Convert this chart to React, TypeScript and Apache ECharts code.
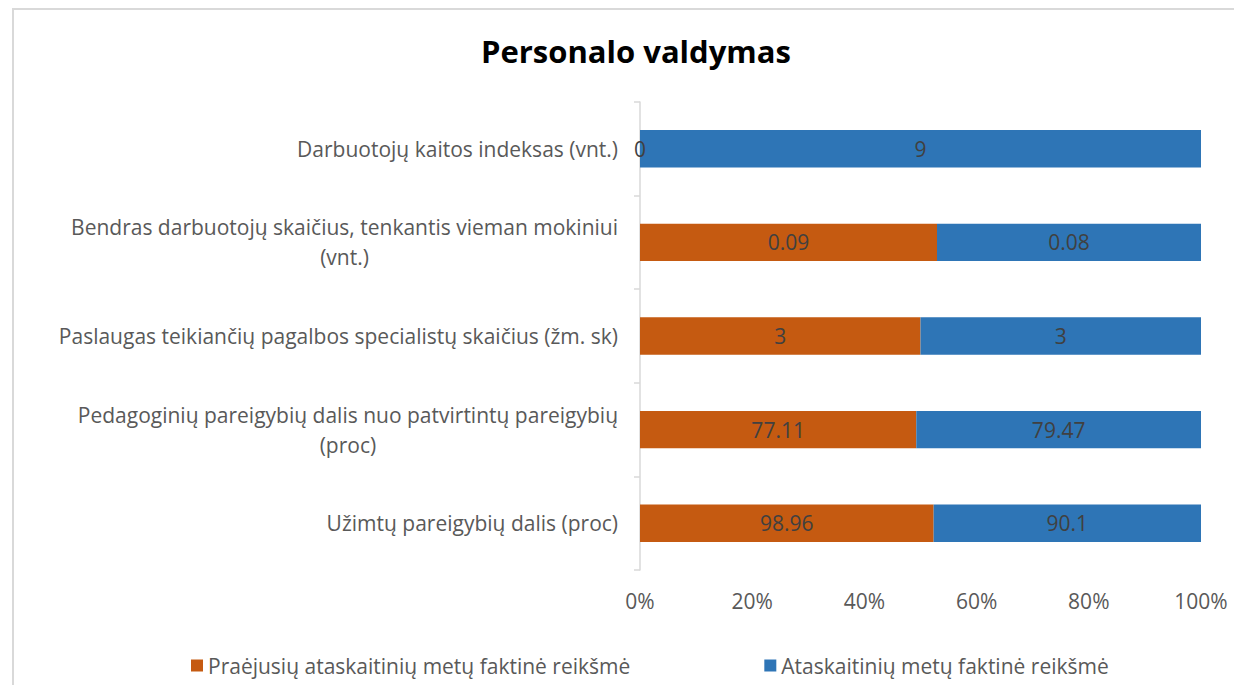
import React, { useEffect, useRef } from "react";
import * as echarts from "echarts";

const categories = [
  "Užimtų pareigybių dalis (proc)",
  "Pedagoginių pareigybių dalis nuo patvirtintų pareigybių\n(proc)",
  "Paslaugas teikiančių pagalbos specialistų skaičius (žm. sk)",
  "Bendras darbuotojų skaičius, tenkantis vieman mokiniui\n(vnt.)",
  "Darbuotojų kaitos indeksas (vnt.)",
];
const previousYear = [98.96, 77.11, 3, 0.09, 0];
const currentYear = [90.1, 79.47, 3, 0.08, 9];
const seriesNames = [
  "Praėjusių ataskaitinių metų faktinė reikšmė",
  "Ataskaitinių metų faktinė reikšmė",
];
const xTicks = [0, 20, 40, 60, 80, 100];

const FONT = "Open Sans";
const FS = 21;

export default function App() {
  const ref = useRef<HTMLDivElement>(null);
  useEffect(() => {
    if (!ref.current) return;
    const chart = echarts.init(ref.current, undefined, { renderer: "svg" });
    const totals = previousYear.map((v, i) => v + currentYear[i]);
    const toData = (arr: number[]) =>
      arr.map((v, i) => ({ value: totals[i] ? (v / totals[i]) * 100 : 0, raw: v }));
    const labelCfg = {
      show: true,
      position: "inside",
      color: "#404040",
      fontSize: FS,
      fontFamily: FONT,
      formatter: (p: any) => String(p.data.raw),
    };
    chart.setOption({
      animation: false,
      textStyle: { fontFamily: FONT },
      title: {
        text: "Personalo valdymas",
        left: 476,
        top: 30,
        textStyle: { fontSize: 31, fontWeight: "bold", color: "#000", fontFamily: FONT },
      },
      graphic: [
        {
          type: "rect",
          shape: { x: 13, y: 9, width: 1400, height: 900 },
          style: { fill: "none", stroke: "#d9d9d9", lineWidth: 2 },
          silent: true,
        },
      ],
      legend: {
        top: 650,
        left: 186,
        itemGap: 134,
        itemWidth: 12,
        itemHeight: 12,
        icon: "rect",
        textStyle: { fontSize: FS, color: "#595959", fontFamily: FONT },
        data: seriesNames,
      },
      grid: { left: 640, right: 33, top: 102, bottom: 115, containLabel: false },
      xAxis: {
        type: "value",
        min: 0,
        max: 100,
        interval: 20,
        axisLine: { show: false },
        axisTick: { show: false },
        splitLine: { show: false },
        axisLabel: {
          margin: 20,
          fontSize: FS,
          color: "#595959",
          fontFamily: FONT,
          formatter: (v: number) => (xTicks.includes(v) ? v + "%" : ""),
        },
      },
      yAxis: {
        type: "category",
        data: categories,
        axisLine: { show: true, lineStyle: { color: "#d9d9d9", width: 1.5 } },
        axisTick: { show: true, length: 6, lineStyle: { color: "#d9d9d9", width: 1.5 } },
        axisLabel: {
          margin: 22,
          fontSize: FS,
          color: "#595959",
          fontFamily: FONT,
          formatter: (v: string) =>
            v
              .split("\n")
              .map((l) => "{c|" + l + "}")
              .join("\n"),
          rich: {
            c: { align: "center", fontSize: FS, color: "#595959", fontFamily: FONT, lineHeight: 30 },
          },
        },
      },
      series: [
        {
          name: seriesNames[0],
          type: "bar",
          stack: "total",
          barCategoryGap: "60%",
          itemStyle: { color: "#C55A11" },
          label: labelCfg,
          data: toData(previousYear),
        },
        {
          name: seriesNames[1],
          type: "bar",
          stack: "total",
          barCategoryGap: "60%",
          itemStyle: { color: "#2E75B6" },
          label: labelCfg,
          data: toData(currentYear),
        },
      ],
    });
    return () => chart.dispose();
  }, []);
  return (
    <div
      ref={ref}
      style={{ position: "fixed", left: 0, top: 0, width: 1234, height: 685, background: "#fff" }}
    />
  );
}
